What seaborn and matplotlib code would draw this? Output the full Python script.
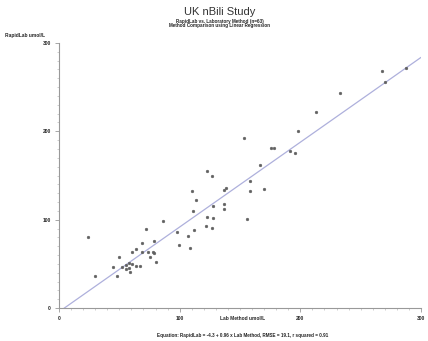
import matplotlib
matplotlib.use("Agg")
import matplotlib.pyplot as plt
from matplotlib.ticker import MultipleLocator
import seaborn as sns
import pandas as pd

lab_method = [153.5, 122.8, 126.6, 109.9, 158.3, 158.3, 136.5, 138.7, 113.2, 111.0,
              128.0, 136.8, 136.8, 122.8, 128.0, 122.0, 126.9, 155.6, 112.1, 98.1,
              107.3, 99.2, 108.9, 86.3, 72.3, 78.5, 68.5, 63.5, 60.2, 68.5,
              73.4, 78.2, 78.5, 75.2, 80.1, 49.7, 44.4, 52.4, 55.6, 55.6,
              57.8, 60.5, 58.1, 63.7, 67.2, 58.6, 47.8, 29.8, 24.2,
              267.7, 287.3, 270.4, 233.1, 213.2, 198.1, 175.3, 178.5, 191.7, 195.2,
              166.7, 169.6]
rapidlab = [192.4, 154.9, 149.6, 133.0, 143.5, 133.0, 133.7, 136.0, 122.0, 109.9,
            115.6, 117.8, 111.7, 103.0, 101.9, 92.8, 90.1, 100.8, 88.6, 86.0,
            81.0, 71.3, 67.8, 98.1, 89.8, 75.8, 73.9, 66.7, 62.9, 62.9,
            62.9, 63.3, 61.7, 57.2, 52.6, 58.3, 46.9, 46.2, 48.9, 44.3,
            51.5, 50.3, 45.8, 48.1, 48.1, 40.9, 36.0, 36.0, 79.9,
            268.2, 272.0, 255.7, 243.5, 222.4, 200.3, 181.5, 181.5, 177.6, 175.8,
            161.4, 134.9]
fit_intercept = -4.3
fit_slope = 0.96
line_x = [0, 300]

df = pd.DataFrame({"lab": lab_method, "rapid": rapidlab})

sns.set_style("ticks")
plt.rcParams["font.family"] = ["Liberation Sans", "DejaVu Sans"]

fig = plt.figure(figsize=(4.28, 3.41), dpi=100)
ax = fig.add_axes([59 / 428, 1 - 308 / 341, 362 / 428, 265 / 341])

sns.scatterplot(x="lab", y="rapid", data=df, ax=ax, marker="o", s=4,
                color="#606060", edgecolor="#606060", linewidth=0.3, zorder=3)
ax.plot(line_x, [fit_intercept + fit_slope * v for v in line_x],
        color="#aeb0dc", linewidth=0.9, zorder=2)

ax.set_xlim(0, 300)
ax.set_ylim(0, 300)
ax.xaxis.set_major_locator(MultipleLocator(100))
ax.yaxis.set_major_locator(MultipleLocator(100))
ax.xaxis.set_minor_locator(MultipleLocator(10))
ax.yaxis.set_minor_locator(MultipleLocator(10))
sns.despine(ax=ax)
for s in ["left", "bottom"]:
    ax.spines[s].set_color("#999999")
    ax.spines[s].set_linewidth(0.8)
ax.tick_params(which="major", length=3, width=0.6, color="#999999",
               labelsize=3.5, pad=3)
ax.tick_params(which="minor", length=1.5, width=0.5, color="#bbbbbb")
for lbl in ax.get_xticklabels() + ax.get_yticklabels():
    lbl.set_fontweight("bold")
ax.set_xlabel("")
ax.set_ylabel("")

fig.text(220 / 428, 1 - 12 / 341, "UK nBili Study", ha="center", va="center",
         fontsize=8, color="#333333")
fig.text(220 / 428, 1 - 21 / 341, "RapidLab vs. Laboratory Method (n=63)",
         ha="center", va="center", fontsize=3.3, fontweight="bold")
fig.text(220 / 428, 1 - 25.5 / 341, "Method Comparison using Linear Regression",
         ha="center", va="center", fontsize=3.3, fontweight="bold")
fig.text(5 / 428, 1 - 36 / 341, "RapidLab umol/L", ha="left", va="center",
         fontsize=3.5, fontweight="bold")
fig.text(243 / 428, 1 - 318 / 341, "Lab Method umol/L", ha="center", va="center",
         fontsize=3.5, fontweight="bold")
fig.text(243 / 428, 1 - 335 / 341,
         "Equation: RapidLab = -4.3 + 0.96 x Lab Method, RMSE = 19.1, r squared = 0.91",
         ha="center", va="center", fontsize=3.3, fontweight="bold")

fig.savefig("out.png", dpi=100)
